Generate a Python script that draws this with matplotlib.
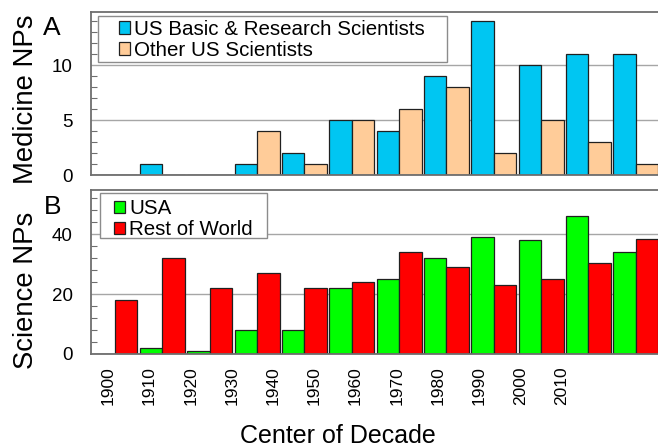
import numpy as np
import matplotlib
matplotlib.use('Agg')
import matplotlib.pyplot as plt
from matplotlib.patches import Rectangle

plt.rcParams['font.family'] = ['Liberation Sans', 'DejaVu Sans']

# Nobel prize counts per decade
decades = ['1900', '1910', '1920', '1930', '1940', '1950',
           '1960', '1970', '1980', '1990', '2000', '2010']
med_basic = [0, 1, 0, 1, 2, 5, 4, 9, 14, 10, 11, 11]
med_other = [0, 0, 0, 4, 1, 5, 6, 8, 2, 5, 3, 1]
sci_usa = [0, 2, 1, 8, 8, 22, 25, 32, 39, 38, 46, 34]
sci_row = [18, 32, 22, 27, 22, 24, 34, 29, 23, 25, 30.5, 38.5]

c_basic = '#00c6f2'
c_other = '#ffcc99'
c_usa = '#00ff00'
c_row = '#ff0000'
spine_c = '#6e6e6e'
grid_c = '#a6a6a6'

W, H = 658, 447
fig = plt.figure(figsize=(W / 100, H / 100), dpi=100)
ax1 = fig.add_axes([91 / W, (H - 175) / H, 568 / W, 163 / H])
ax2 = fig.add_axes([91 / W, (H - 354) / H, 568 / W, 164 / H])

x = np.arange(len(decades))
w = 0.475


def style_axes(ax, ymax, major, minor):
    ax.set_xlim(-0.507, 11.49)
    ax.set_ylim(0, ymax)
    ax.set_axisbelow(True)
    ax.yaxis.grid(True, color=grid_c, linewidth=1.0)
    ax.set_yticks(np.arange(0, ymax, major))
    ax.set_yticks(np.arange(0, ymax, minor), minor=True)
    ax.tick_params(axis='y', which='both', direction='in', colors=spine_c,
                   labelcolor='black', labelsize=13.5, pad=13)
    ax.tick_params(axis='y', which='major', length=0)
    ax.tick_params(axis='y', which='minor', length=4, width=0.8)
    for s in ax.spines.values():
        s.set_color(spine_c)
        s.set_linewidth(1.3)


def legend_box(ax, x0, y0, x1, y1):
    ax.add_patch(Rectangle((x0, y0), x1 - x0, y1 - y0, transform=ax.transAxes,
                           facecolor='white', edgecolor='#8c8c8c',
                           linewidth=1.0, zorder=4))


leg_kw = dict(loc='upper left', frameon=False, fontsize=14.8, borderpad=0,
              borderaxespad=0, handlelength=0.55, handleheight=0.55,
              handletextpad=0.2, labelspacing=0.1)

# Panel A: medicine
ax1.bar(x - w / 2, med_basic, w, color=c_basic, edgecolor='#202020',
        linewidth=0.9, label='US Basic & Research Scientists')
ax1.bar(x + w / 2, med_other, w, color=c_other, edgecolor='#202020',
        linewidth=0.9, label='Other US Scientists')
style_axes(ax1, 14.82, 5, 1)
ax1.set_xticks([])
ax1.set_ylabel('Medicine NPs', fontsize=19.8)
ax1.yaxis.set_label_coords(-0.0915, 0.466)
legend_box(ax1, 0.0123, 0.693, 0.6268, 0.975)
ax1.legend(bbox_to_anchor=(0.0493, 0.953), **leg_kw)

# Panel B: science
ax2.bar(x - w / 2, sci_usa, w, color=c_usa, edgecolor='#202020',
        linewidth=0.9, label='USA')
ax2.bar(x + w / 2, sci_row, w, color=c_row, edgecolor='#202020',
        linewidth=0.9, label='Rest of World')
style_axes(ax2, 54.7, 20, 4)
ax2.set_ylabel('Science NPs', fontsize=19.8)
ax2.yaxis.set_label_coords(-0.0915, 0.387)
legend_box(ax2, 0.0158, 0.707, 0.3099, 0.982)
ax2.legend(bbox_to_anchor=(0.0405, 0.945), **leg_kw)

# decade labels sit on their own spacing under the bars
tick_x = -0.141 + 0.870 * np.arange(len(decades))
ax2.set_xticks(tick_x)
ax2.set_xticklabels(decades, rotation=90, fontsize=12.5)
ax2.tick_params(axis='x', length=0, pad=9)
ax2.set_xlabel('Center of Decade', fontsize=18)
ax2.xaxis.set_label_coords(0.435, -0.425)

fig.text(43 / W, (H - 35) / H, 'A', fontsize=19, va='baseline')
fig.text(44 / W, (H - 214) / H, 'B', fontsize=19, va='baseline')

fig.savefig('out.png', dpi=100)
